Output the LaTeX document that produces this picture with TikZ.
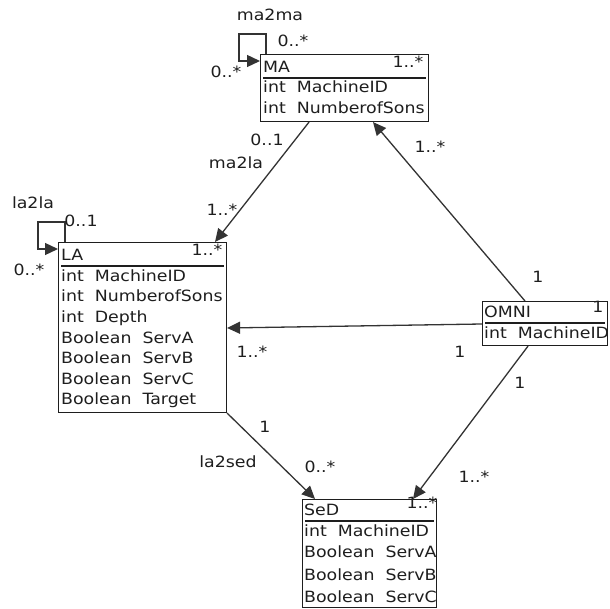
\documentclass[tikz,border=0pt]{standalone}
\usepackage{fontspec}
\newfontfamily\umlfont[FakeStretch=1.12]{DejaVu Sans}
\usetikzlibrary{arrows.meta,calc}
\definecolor{ink}{HTML}{1E1E1E}
\definecolor{wire}{HTML}{333333}
\begin{document}
\begin{tikzpicture}[x=1pt,y=-1pt,
  txt/.style={font=\umlfont\fontsize{15.5}{18}\selectfont, text=ink, inner sep=0pt, text height=11.3pt, text depth=0pt},
  row/.style={txt, anchor=west},
  lbl/.style={txt, anchor=center},
  cls/.style n args={2}{draw=ink, line width=1.1pt, anchor=north west, inner sep=0pt, minimum width=#1, minimum height=#2},
  sepline/.style={draw=ink, line width=1.1pt},
  assoc/.style={draw=wire, line width=1.3pt, -{Triangle[length=13pt,width=12pt]}}
]
\useasboundingbox (0,0) rectangle (610,609);
\fill[white] (0,0) rectangle (610,609);

% class boxes
\node[cls={168pt}{67pt}] (MA) at (260,54) {};
\node[cls={168pt}{170pt}] (LA) at (58,242) {};
\node[cls={125pt}{44pt}] (OMNI) at (482,301) {};
\node[cls={134pt}{108pt}] (SeD) at (302,499) {};

% separators
\draw[sepline] ($(MA.north west)+(3,24)$) -- ($(MA.north east)+(-3,24)$);
\draw[sepline] ($(LA.north west)+(3,24)$) -- ($(LA.north east)+(-3,24)$);
\draw[sepline] ($(OMNI.north west)+(3,22)$) -- ($(OMNI.north east)+(-3,22)$);
\draw[sepline] ($(SeD.north west)+(3,22)$) -- ($(SeD.north east)+(-3,22)$);

% MA
\node[row] (MAt) at (263,67) {MA};
\node[row] (MAa) at (263,87) {int~~MachineID};
\node[row] (MAb) at (263,108) {int~~NumberofSons};
% LA
\node[row] (LAt) at (61,255) {LA};
\node[row] (LAa) at (61,276) {int~~MachineID};
\node[row] (LAb) at (61,296) {int~~NumberofSons};
\node[row] (LAc) at (61,317) {int~~Depth};
\node[row] (LAd) at (61,338) {Boolean~~ServA};
\node[row] (LAe) at (61,358) {Boolean~~ServB};
\node[row] (LAf) at (61,379) {Boolean~~ServC};
\node[row] (LAg) at (61,399) {Boolean~~Target};
% OMNI
\node[row] (OMt) at (484,312) {OMNI};
\node[row] (OMa) at (484,333) {int~~MachineID};
% SeD
\node[row] (SDt) at (304,510) {SeD};
\node[row] (SDa) at (304,531) {int~~MachineID};
\node[row] (SDb) at (304,552) {Boolean~~ServA};
\node[row] (SDc) at (304,575) {Boolean~~ServB};
\node[row] (SDd) at (304,597) {Boolean~~ServC};

% connectors
\draw[assoc] ($(MA.north west)+(6,0)$) -- ++(0,-20) -- ++(-27,0) -- ++(0,27) -- ($(MA.north west)+(0,7)$);
\draw[assoc] ($(LA.north west)+(7,0)$) -- ++(0,-20) -- ++(-27,0) -- ++(0,27) -- ($(LA.north west)+(0,7)$);
\draw[assoc] ($(MA.south west)+(49,0)$) -- ($(LA.north west)+(157,0)$);
\draw[assoc] ($(OMNI.north west)+(43,0)$) -- ($(MA.south west)+(113,0)$);
\draw[assoc] ($(OMNI.north west)+(0,23)$) -- ($(LA.north east)+(0,86)$);
\draw[assoc] ($(OMNI.south west)+(46,0)$) -- ($(SeD.north west)+(111,0)$);
\draw[assoc] (LA.south east) -- ($(SeD.north west)+(13,0)$);

% labels
\node[lbl] (l1) at (270,15) {ma2ma};
\node[lbl] (l2) at (293,41) {0..*};
\node[lbl] (l3) at (226,72) {0..*};
\node[lbl] (l4) at (408,62) {1..*};
\node[lbl] (l5) at (267,140) {0..1};
\node[lbl] (l6) at (236,163) {ma2la};
\node[lbl] (l7) at (222,210) {1..*};
\node[lbl] (l8) at (430,147) {1..*};
\node[lbl] (l9) at (538,277) {1};
\node[lbl] (l10) at (33,203) {la2la};
\node[lbl] (l11) at (81,221) {0..1};
\node[lbl] (l12) at (29,270) {0..*};
\node[lbl] (l13) at (207,250) {1..*};
\node[lbl] (l14) at (598,307) {1};
\node[lbl] (l15) at (252,352) {1..*};
\node[lbl] (l16) at (460,352) {1};
\node[lbl] (l17) at (520,383) {1};
\node[lbl] (l18) at (474,477) {1..*};
\node[lbl] (l19) at (265,427) {1};
\node[lbl] (l20) at (228,462) {la2sed};
\node[lbl] (l21) at (320,467) {0..*};
\node[lbl] (l22) at (422,503) {1..*};
\end{tikzpicture}
\end{document}
